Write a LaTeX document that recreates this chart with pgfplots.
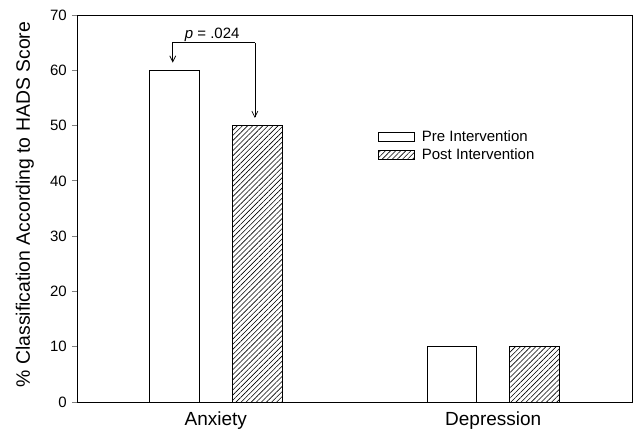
\documentclass[border=0pt]{standalone}
\usepackage{fontspec}
\setmainfont{Liberation Sans}
\usepackage{pgfplots}
\pgfplotsset{compat=1.18}
\usetikzlibrary{patterns.meta,arrows.meta}
\begin{document}
\fontsize{15}{17}\selectfont
\begin{tikzpicture}
\begin{axis}[
  scale only axis,
  width=555pt, height=387pt,
  xmin=-0.5, xmax=1.5,
  ymin=0, ymax=70,
  ytick={0,10,...,70},
  xtick={0,1},
  xticklabels={Anxiety,Depression},
  major x tick style={draw=none},
  tick align=outside,
  major tick length=5pt,
  ytick pos=left,
  axis line style={line width=0.8pt},
  ytick style={line width=0.8pt},
  /pgf/number format/assume math mode=true,
  yticklabel style={font=\fontsize{15}{17}\selectfont},
  xticklabel style={font=\fontsize{19}{21}\selectfont,anchor=base,yshift=-18.5pt},
  ylabel={\% Classification According to HADS Score},
  ylabel style={font=\fontsize{19.4}{21}\selectfont,at={(axis description cs:-0.094,0.51)},anchor=center},
  ybar,
  bar width=0.179,
  legend style={at={(axis description cs:0.537,0.713)},anchor=north west,draw=none,fill=none,
    font=\fontsize{15}{17}\selectfont,row sep=1pt},
  legend cell align=left,
  legend image code/.code={\draw[#1,line width=0.6pt] (0pt,-4.5pt) rectangle (36pt,4.5pt);},
  /tikz/every odd column/.append style={column sep=5pt},
]
\addplot[draw=black,fill=white,line width=0.8pt,bar shift=-0.149] coordinates {(0,60) (1,10)};
\addlegendentry{Pre Intervention}
\addplot[draw=black,line width=0.8pt,bar shift=0.149,pattern={Lines[angle=45,distance=3.6pt,line width=0.6pt]}] coordinates {(0,50) (1,10)};
\addlegendentry{Post Intervention}
\draw[line width=0.7pt,-{Straight Barb[length=6pt,width=6pt]}] (axis cs:0.141,65) -- (axis cs:0.141,51.4);
\draw[line width=0.7pt,-{Straight Barb[length=6pt,width=6pt]}] (axis cs:0.141,65) -- (axis cs:-0.155,65) -- (axis cs:-0.155,61.4);
\node[anchor=base,font=\fontsize{15}{17}\selectfont] at (axis cs:-0.013,65.7) {\textit{p} = .024};
\end{axis}
\path ([shift={(-77pt,-27pt)}]current axis.south west) rectangle ([shift={(1pt,15pt)}]current axis.north east);
\end{tikzpicture}
\end{document}
